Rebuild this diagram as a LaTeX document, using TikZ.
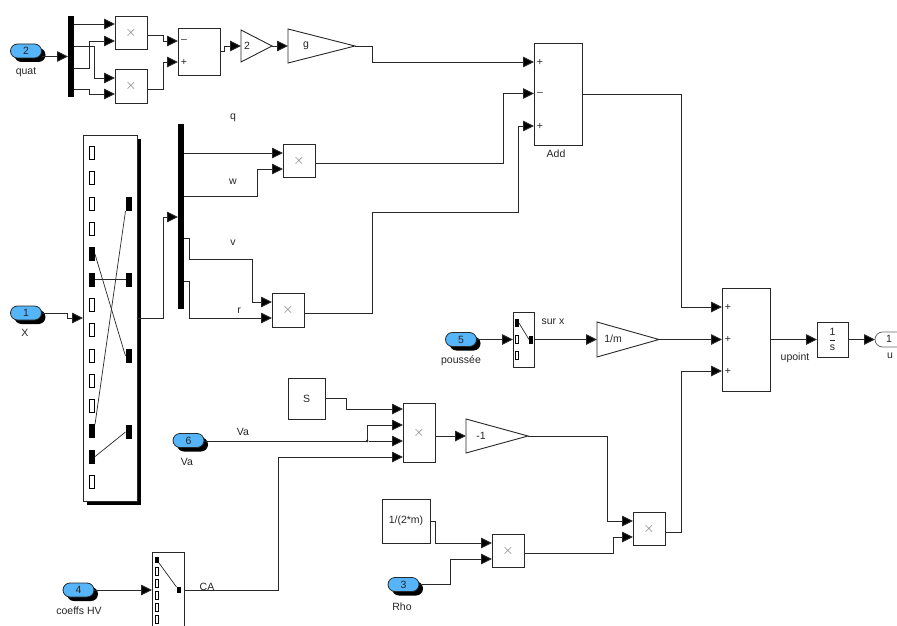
\documentclass[tikz,border=0pt]{standalone}
\usepackage{amsmath}
\usepackage{fontspec}
\setmainfont{Liberation Sans}
\usetikzlibrary{arrows.meta,shapes.geometric,shapes.misc,shadows}

\definecolor{portblue}{RGB}{86,180,248}
\definecolor{wirecol}{RGB}{40,40,40}
\tikzset{
  every node/.style={font=\fontsize{10.5}{12}\selectfont,text=black!85,inner sep=0pt,outer sep=0pt},
  block/.style={draw=wirecol,fill=white,line width=0.9pt},
  prod/.style={block,minimum width=32pt,minimum height=33pt,font=\fontsize{15}{15}\selectfont,text=black!55},
  bus/.style={fill=black,minimum width=6pt},
  gain/.style={block,isosceles triangle,isosceles triangle stretches,anchor=lower side},
  pill/.style={rounded rectangle,draw=wirecol,fill=portblue,line width=0.8pt,minimum width=31pt,minimum height=14pt,
    drop shadow={shadow xshift=4pt,shadow yshift=-4pt,opacity=1,fill=black}},
  portw/.style={draw=black,fill=white,line width=0.8pt,minimum width=5pt,minimum height=13pt},
  portb/.style={fill=black,minimum width=6pt,minimum height=14pt},
  wire/.style={draw=wirecol,line width=0.9pt},
  arrow/.style={wire,-{Triangle[length=11pt,width=10.5pt,fill=black]}},
}

\begin{document}
\begin{tikzpicture}[x=1pt,y=-1pt]
    \clip (0,0) rectangle (897,626);
    \fill[white] (0,0) rectangle (897,626);
    % top row: quaternion products
    \node[pill] (pillTwo) at (26,51) {2};
    \node (lblQuat) at (26,72) {quat};
    \node[bus,minimum height=81pt] (busA) at (71,56.5) {};
    \path (74,24) coordinate (busAo1) (74,46) coordinate (busAo2) (74,68) coordinate (busAo3) (74,89) coordinate (busAo4);
    \node[prod] (prodA) at (131,32.5) {$\times$};
    \path (115,24) coordinate (prodAi1) (115,41) coordinate (prodAi2) (147,35) coordinate (prodAo);
    \node[prod,minimum height=34pt] (prodB) at (131,86) {$\times$};
    \path (115,78) coordinate (prodBi1) (115,94) coordinate (prodBi2) (147,89) coordinate (prodBo);
    \node[block,minimum width=42pt,minimum height=47pt] (sumA) at (199,51.5) {};
    \path (178,41) coordinate (sumAi1) (178,62) coordinate (sumAi2);
    \node (sumAm) at (184,41) {--};
    \node (sumAp) at (184,62) {+};
    \node[gain,minimum width=32pt,minimum height=31pt] (gainTwo) at (241,46) {};
    \node (txtTwo) at (247,46) {2};
    \node[gain,minimum width=34pt,minimum height=67pt] (gainG) at (288,46) {};
    \node (txtG) at (306,46) {g};
    \node[block,minimum width=48pt,minimum height=102pt] (addA) at (558,94) {};
    \path (534,62) coordinate (addAi1) (534,93.5) coordinate (addAi2) (534,126) coordinate (addAi3);
    \node (addP) at (540,62) {+};
    \node (addM) at (540,93.5) {--};
    \node (addQ) at (540,126) {+};
    \node (lblAdd) at (556,154) {Add};
    \draw[arrow] (pillTwo.east |- busA.west) -- (busA.west);
    \draw[arrow] (busAo1) -- (prodAi1);
    \draw[arrow] (busAo2) -- ++(20,0) |- (prodBi1);
    \draw[arrow] (busAo3) -- ++(15,0) |- (prodAi2);
    \draw[arrow] (busAo4) -- ++(15,0) |- (prodBi2);
    \draw[arrow] (prodAo) -- ++(16,0) |- (sumAi1);
    \draw[arrow] (prodBo) -- ++(16,0) |- (sumAi2);
    \draw[arrow] (sumA.east) -- ++(4,0) |- (gainTwo.lower side);
    \draw[arrow] (gainTwo.apex) -- (gainG.lower side);
    \draw[arrow] (gainG.apex) -- ++(17,0) |- (addAi1);
    % selector and second bus
    \node[pill] (pillOne) at (26,313) {1};
    \node (lblX) at (25,333) {X};
    \node[block,minimum width=54pt,minimum height=366pt,
      drop shadow={shadow xshift=4pt,shadow yshift=-4pt,opacity=1,fill=black}] (selA) at (110,318) {};
    \foreach \n in {1,2,3,4,7,8,9,10,11,14}
      \node[portw] (selL\n) at (92,{153+25.3*(\n-1)}) {};
    \foreach \n in {5,6,12,13}
      \node[portb] (selL\n) at (92,{153+25.3*(\n-1)}) {};
    \node[portb] (selR1) at (128.5,204) {};
    \node[portb] (selR2) at (128.5,279.5) {};
    \node[portb] (selR3) at (128.5,356) {};
    \node[portb] (selR4) at (128.5,432) {};
    \draw[wire,line width=0.7pt] (selL5.east) -- (selR3.west);
    \draw[wire,line width=0.7pt] (selL6.east) -- (selR2.west);
    \draw[wire,line width=0.7pt] (selL12.north east) -- (selR1.south west);
    \draw[wire,line width=0.7pt] (selL13.east) -- (selR4.west);
    \node[bus,minimum height=185pt] (busB) at (181,216.5) {};
    \path (178,217) coordinate (busBi) (184,153) coordinate (busBo1) (184,196) coordinate (busBo2)
      (184,238) coordinate (busBo3) (184,281) coordinate (busBo4);
    \node[prod] (prodQ) at (299,160.5) {$\times$};
    \path (283,153) coordinate (prodQi1) (283,169) coordinate (prodQi2) (315,163) coordinate (prodQo);
    \node[prod,minimum height=34pt] (prodV) at (288,310) {$\times$};
    \path (272,302) coordinate (prodVi1) (272,318) coordinate (prodVi2) (304,313) coordinate (prodVo);
    \node (lblQ) at (233,118) {q};
    \node (lblW) at (233,182) {w};
    \node (lblV) at (233,243) {v};
    \node (lblR) at (239,311) {r};
    \draw[arrow] (pillOne.east) -- ++(26,0) |- (selA.west);
    \draw[arrow] (selA.east) -- ++(26,0) |- (busBi);
    \draw[arrow] (busBo1) -- (prodQi1);
    \draw[arrow] (busBo2) -- ++(73,0) |- (prodQi2);
    \draw[arrow] (busBo3) -- ++(5,0) |- ++(63,21) |- (prodVi1);
    \draw[arrow] (busBo4) -- ++(5,0) |- (prodVi2);
    \draw[arrow] (prodQo) -- ++(188,0) |- (addAi2);
    \draw[arrow] (prodVo) -- ++(68,0) |- ++(146,-101) |- (addAi3);
    % right part: sum and output
    \node[pill] (pillFive) at (461,339.5) {5};
    \node (lblPous) at (461,361) {poussée};
    \node[block,minimum width=21pt,minimum height=55pt] (selB) at (523.5,339.5) {};
    \node[portb,minimum width=4pt,minimum height=8pt] (selBa) at (517,323) {};
    \node[portw,minimum width=3pt,minimum height=8pt] (selBb) at (517,339.5) {};
    \node[portw,minimum width=3pt,minimum height=8pt] (selBc) at (517,355) {};
    \node[portb,minimum width=4pt,minimum height=8pt] (selBr) at (531,339.5) {};
    \draw[wire,line width=0.7pt] (selBa.east) -- (selBr.west);
    \node (lblSur) at (553,322) {sur x};
    \node[gain,minimum width=35pt,minimum height=62pt] (gainM) at (597,339.5) {};
    \node (txtM) at (613,339) {1/m};
    \node[block,minimum width=48pt,minimum height=103pt] (sumB) at (746,339.5) {};
    \path (722,307) coordinate (sumBi1) (722,339.5) coordinate (sumBi2) (722,371) coordinate (sumBi3);
    \node (sumBp) at (728,307) {+};
    \node (sumBq) at (728,339.5) {+};
    \node (sumBr) at (728,371) {+};
    \node[block,minimum width=31pt,minimum height=35pt] (intA) at (832.5,339.5) {$\displaystyle\frac{\text{1}}{\text{s}}$};
    \node[rounded rectangle,draw=black!60,fill=white,line width=0.8pt,minimum width=31pt,minimum height=15pt] (outOne) at (890.5,339.5) {};
    \node (txtOut) at (889,339) {1};
    \node (lblU) at (890,356) {u};
    \node (lblUp) at (795,358) {upoint};
    \draw[arrow] (pillFive.east) -- (selB.west);
    \draw[arrow] (selB.east) -- (gainM.lower side);
    \draw[arrow] (gainM.apex) -- (sumBi2);
    \draw[arrow] (sumB.east) -- (intA.west);
    \draw[arrow] (intA.east) -- (outOne.west);
    \draw[arrow] (addA.east) -- ++(99,0) |- (sumBi1);
    % lower part
    \node[pill] (pillSix) at (188.5,440.5) {6};
    \node (lblVa) at (187,462) {Va};
    \node (lblVb) at (243,432) {Va};
    \node[block,minimum width=37pt,minimum height=41pt] (blkS) at (306.5,398.5) {S};
    \node[prod,minimum height=59pt] (prodC) at (419,432.5) {$\times$};
    \path (403,409) coordinate (prodCi1) (403,425) coordinate (prodCi2) (403,441) coordinate (prodCi3)
      (403,457) coordinate (prodCi4) (435,436) coordinate (prodCo);
    \node[fill=wirecol,circle,minimum size=3pt] (dotVa) at (367,441) {};
    \node[gain,minimum width=34pt,minimum height=62pt] (gainN) at (466,436) {};
    \node (txtN) at (481,436) {-1};
    \node[pill] (pillFour) at (78.5,590) {4};
    \node (lblCoef) at (79,611) {coeffs HV};
    \node[block,minimum width=32pt,minimum height=84pt] (selC) at (168,594) {};
    \foreach \n in {2,3,4,5,6}
      \node[portw,minimum width=3pt,minimum height=8pt] (selC\n) at (157,{560+11.8*(\n-1)}) {};
    \node[portb,minimum width=4pt,minimum height=6pt] (selC1) at (157,560) {};
    \node[portb,minimum width=4pt,minimum height=6pt] (selCr) at (178.5,590) {};
    \draw[wire,line width=0.7pt] (selC1.south east) -- (selCr.north west);
    \node (lblCA) at (207,587) {CA};
    \node[block,minimum width=48pt,minimum height=44pt] (blkM) at (406,521) {1/(2*m)};
    \path (430,521) coordinate (blkMo);
    \node[prod] (prodD) at (508,550.5) {$\times$};
    \path (492,543) coordinate (prodDi1) (492,559) coordinate (prodDi2) (524,553) coordinate (prodDo);
    \node[prod] (prodE) at (649,528.5) {$\times$};
    \path (633,521) coordinate (prodEi1) (633,537) coordinate (prodEi2) (665,532) coordinate (prodEo);
    \node[pill] (pillThree) at (403.5,584.5) {3};
    \node (lblRho) at (402,607) {Rho};
    \draw[wire] (pillSix.east |- dotVa) -- (dotVa);
    \draw[arrow] (dotVa) -- (prodCi3);
    \draw[arrow] (dotVa) |- (prodCi2);
    \draw[arrow] (blkS.east) -- ++(21,0) |- (prodCi1);
    \draw[arrow] (pillFour.east) -- (selC.west |- pillFour.east);
    \draw[arrow] (selC.east |- selCr) -- ++(94,0) |- (prodCi4);
    \draw[arrow] (prodCo) -- (gainN.lower side);
    \draw[arrow] (gainN.apex) -- ++(79,0) |- (prodEi1);
    \draw[arrow] (blkMo) -- ++(5,0) |- (prodDi1);
    \draw[arrow] (pillThree.east) -- ++(31,0) |- (prodDi2);
    \draw[arrow] (prodDo) -- ++(89,0) |- (prodEi2);
    \draw[arrow] (prodEo) -- ++(16,0) |- (sumBi3);
\end{tikzpicture}
\end{document}
